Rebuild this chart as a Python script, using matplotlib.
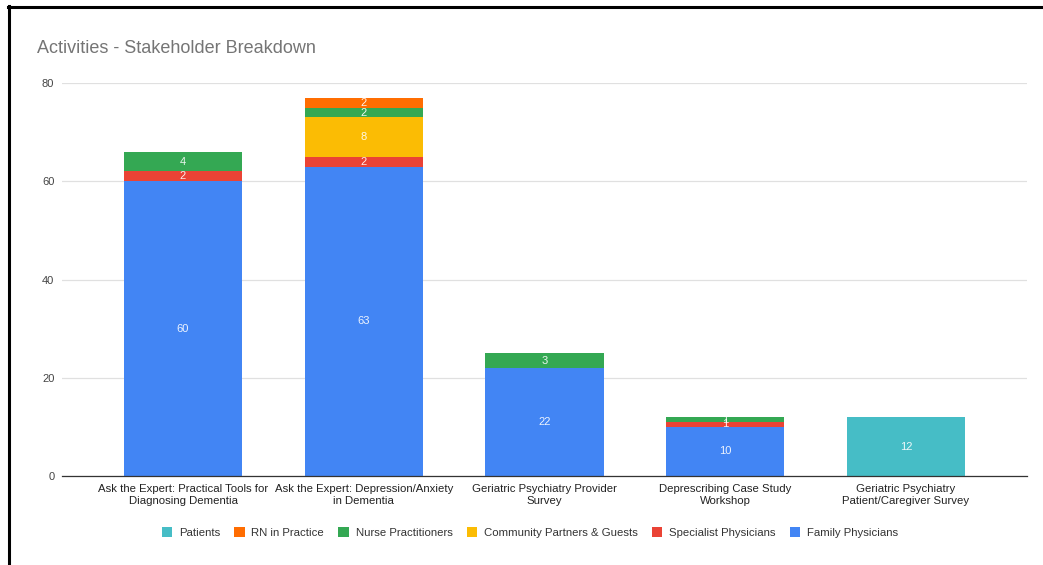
# Activities - Stakeholder Breakdown

import matplotlib.pyplot as plt
from matplotlib.lines import Line2D
from matplotlib.patches import Patch

plt.rcParams['font.family'] = ['Liberation Sans', 'DejaVu Sans']

activities = [
    "Ask the Expert: Practical Tools for\nDiagnosing Dementia",
    "Ask the Expert: Depression/Anxiety\nin Dementia",
    "Geriatric Psychiatry Provider\nSurvey",
    "Deprescribing Case Study\nWorkshop",
    "Geriatric Psychiatry\nPatient/Caregiver Survey",
]

# stacked bottom to top
family_physicians = [60, 63, 22, 10, 0]
specialist_physicians = [2, 2, 0, 1, 0]
community_partners = [0, 8, 0, 0, 0]
nurse_practitioners = [4, 2, 3, 1, 0]
rn_in_practice = [0, 2, 0, 0, 0]
patients = [0, 0, 0, 0, 12]

series = [
    ("Family Physicians", family_physicians, "#4285F4"),
    ("Specialist Physicians", specialist_physicians, "#EA4335"),
    ("Community Partners & Guests", community_partners, "#FBBC04"),
    ("Nurse Practitioners", nurse_practitioners, "#34A853"),
    ("RN in Practice", rn_in_practice, "#FF6D01"),
    ("Patients", patients, "#46BDC6"),
]

fig = plt.figure(figsize=(10.43, 5.65), dpi=100)
ax = fig.add_axes([0.0594, 0.1575, 0.9253, 0.6955])

x = list(range(len(activities)))
bottom = [0] * len(activities)
for name, vals, color in series:
    bars = ax.bar(x, vals, bottom=bottom, width=0.655, color=color, label=name, zorder=3)
    for rect, v, b in zip(bars, vals, bottom):
        if v > 0:
            ax.text(rect.get_x() + rect.get_width() / 2, b + v / 2, str(v),
                    ha='center', va='center', color='white', alpha=0.9,
                    fontsize=8, zorder=4)
    bottom = [b + v for b, v in zip(bottom, vals)]

ax.set_xlim(-0.67, 4.67)
ax.set_ylim(0, 80)
ax.set_yticks([0, 20, 40, 60, 80])
ax.yaxis.grid(True, color='#e0e0e0', linewidth=0.9, zorder=0)
ax.set_axisbelow(True)
for s in ['top', 'right', 'left']:
    ax.spines[s].set_visible(False)
ax.spines['bottom'].set_color('#333333')
ax.spines['bottom'].set_linewidth(0.9)
ax.spines['bottom'].set_zorder(5)
ax.tick_params(axis='y', length=0, pad=5.5, labelsize=8, labelcolor='#444444')
ax.tick_params(axis='x', length=0, pad=6, labelsize=8.2, labelcolor='#222222')
ax.set_xticks(x)
ax.set_xticklabels(activities, linespacing=1.2)

fig.text(0.0355, 0.914, "Activities - Stakeholder Breakdown", fontsize=13, color='#757575',
         ha='left', va='center')

handles = [Patch(facecolor=c, edgecolor='none') for _, _, c in series[::-1]]
labels = [n for n, _, _ in series[::-1]]
fig.legend(handles, labels, loc='center', bbox_to_anchor=(0.508, 0.057), ncol=6,
           frameon=False, fontsize=8.2, handlelength=0.9, handleheight=0.9,
           handletextpad=0.6, columnspacing=1.25, labelcolor='#333333')

# screenshot frame
fig.add_artist(Line2D([8.5 / 1043, 8.5 / 1043], [0, 1 - 6 / 565], color='black', linewidth=2.2,
                      transform=fig.transFigure))
fig.add_artist(Line2D([7.5 / 1043, 1], [1 - 6.5 / 565, 1 - 6.5 / 565], color='black', linewidth=2.2,
                      transform=fig.transFigure))

fig.savefig('out.png', dpi=100)
